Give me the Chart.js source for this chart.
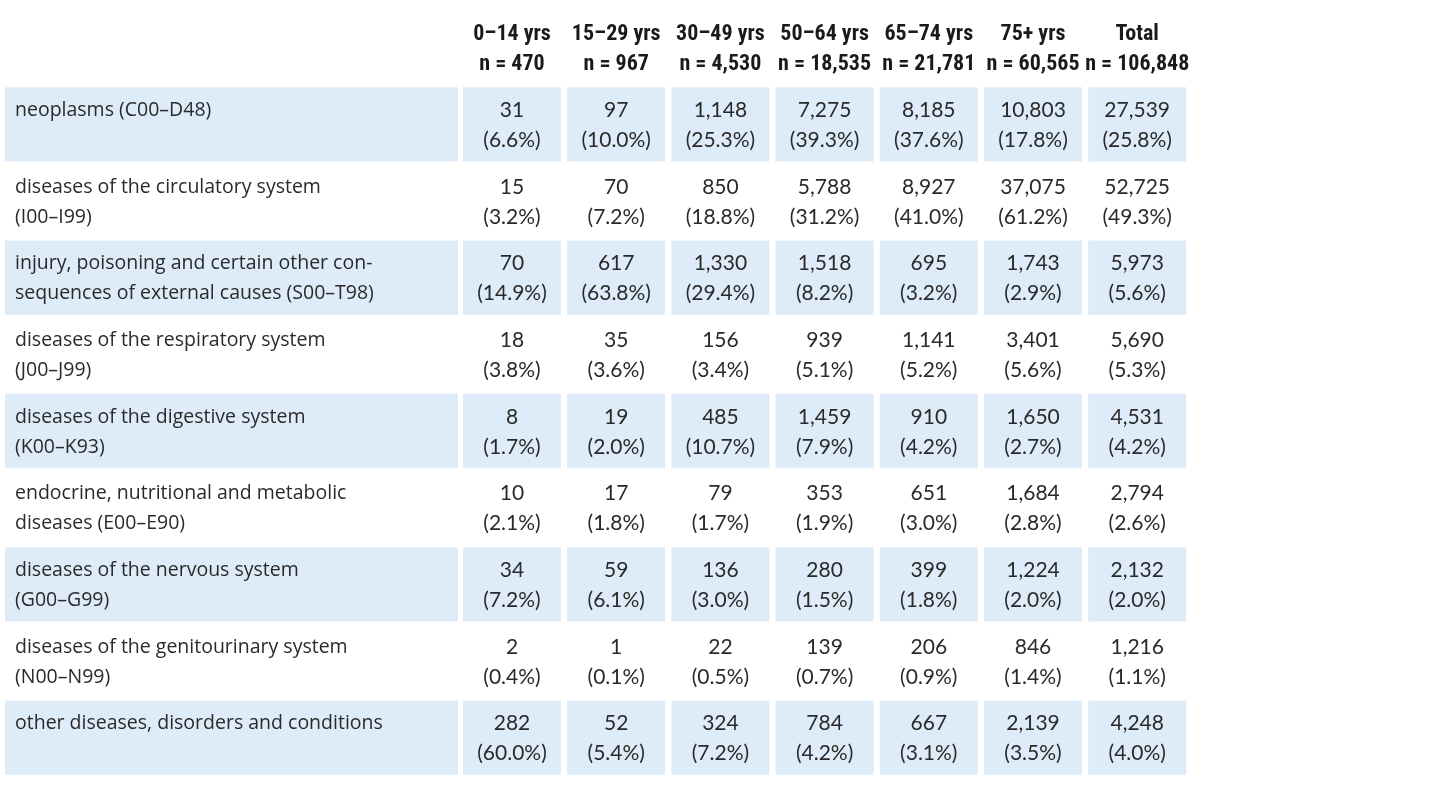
<!DOCTYPE html>
<html><head><meta charset="utf-8">
<script src="https://cdn.jsdelivr.net/npm/chart.js@4"></script>
<style>html,body{margin:0;background:#fff}#c{display:block}</style>
</head><body>
<canvas id="c" width="1429" height="800"></canvas>
<script>
// table data
const ageGroups = ['0–14 yrs', '15–29 yrs', '30–49 yrs', '50–64 yrs', '65–74 yrs', '75+ yrs', 'Total'];
const groupSizes = ['n = 470', 'n = 967', 'n = 4,530', 'n = 18,535', 'n = 21,781', 'n = 60,565', 'n = 106,848'];
const causes = [
  ['neoplasms (C00–D48)'],
  ['diseases of the circulatory system', '(I00–I99)'],
  ['injury, poisoning and certain other con-', 'sequences of external causes (S00–T98)'],
  ['diseases of the respiratory system', '(J00–J99)'],
  ['diseases of the digestive system', '(K00–K93)'],
  ['endocrine, nutritional and metabolic', 'diseases (E00–E90)'],
  ['diseases of the nervous system', '(G00–G99)'],
  ['diseases of the genitourinary system', '(N00–N99)'],
  ['other diseases, disorders and conditions']
];
const counts = [
  ['31', '97', '1,148', '7,275', '8,185', '10,803', '27,539'],
  ['15', '70', '850', '5,788', '8,927', '37,075', '52,725'],
  ['70', '617', '1,330', '1,518', '695', '1,743', '5,973'],
  ['18', '35', '156', '939', '1,141', '3,401', '5,690'],
  ['8', '19', '485', '1,459', '910', '1,650', '4,531'],
  ['10', '17', '79', '353', '651', '1,684', '2,794'],
  ['34', '59', '136', '280', '399', '1,224', '2,132'],
  ['2', '1', '22', '139', '206', '846', '1,216'],
  ['282', '52', '324', '784', '667', '2,139', '4,248']
];
const shares = [
  ['6.6', '10.0', '25.3', '39.3', '37.6', '17.8', '25.8'],
  ['3.2', '7.2', '18.8', '31.2', '41.0', '61.2', '49.3'],
  ['14.9', '63.8', '29.4', '8.2', '3.2', '2.9', '5.6'],
  ['3.8', '3.6', '3.4', '5.1', '5.2', '5.6', '5.3'],
  ['1.7', '2.0', '10.7', '7.9', '4.2', '2.7', '4.2'],
  ['2.1', '1.8', '1.7', '1.9', '3.0', '2.8', '2.6'],
  ['7.2', '6.1', '3.0', '1.5', '1.8', '2.0', '2.0'],
  ['0.4', '0.1', '0.5', '0.7', '0.9', '1.4', '1.1'],
  ['60.0', '5.4', '7.2', '4.2', '3.1', '3.5', '4.0']
];

// column layout (x in page pixels)
const labelCol = [5, 458];
const colStart = 463, colPitch = 104.2, colWidth = 98;
const colSpans = ageGroups.map((_, j) => [colStart + j * colPitch, colStart + j * colPitch + colWidth]);
const BLUE = '#deebf8';
const HEAD_FONT = '"Roboto Condensed", "Liberation Sans Narrow", sans-serif';
const LABEL_FONT = '"Open Sans", sans-serif';
const NUM_FONT = 'Lato, "Open Sans", sans-serif';
const rowIds = causes.map((_, i) => 'r' + i);

const spans = [labelCol].concat(colSpans);
const datasets = spans.map(s => ({
  data: rowIds.map(() => s.slice()),
  backgroundColor: rowIds.map((_, i) => i % 2 === 0 ? BLUE : 'rgba(0,0,0,0)'),
  borderWidth: 0,
  grouped: false,
  categoryPercentage: 1,
  barPercentage: 0.97
}));

const textPlugin = {
  id: 'tableText',
  afterDatasetsDraw(chart) {
    const ctx = chart.ctx, x = chart.scales.x, y = chart.scales.y;
    ctx.save();
    ctx.fillStyle = '#1a1a1a';
    ctx.textBaseline = 'middle';
    // header
    ctx.font = 'bold 22px ' + HEAD_FONT;
    ctx.textAlign = 'center';
    colSpans.forEach((s, j) => {
      const cx = x.getPixelForValue((s[0] + s[1]) / 2);
      ctx.fillText(ageGroups[j], cx, 34);
      ctx.fillText(groupSizes[j], cx, 64);
    });
    ctx.fillStyle = '#2a2a2a';
    rowIds.forEach((id, i) => {
      const cy = y.getPixelForValue(i);
      const top = cy - 14, bot = cy + 16;
      ctx.textAlign = 'left';
      ctx.font = '19.5px ' + LABEL_FONT;
      const lx = x.getPixelForValue(labelCol[0]) + 10;
      causes[i].forEach((t, k) => ctx.fillText(t, lx, k ? bot : top));
      ctx.textAlign = 'center';
      ctx.font = '21px ' + NUM_FONT;
      colSpans.forEach((s, j) => {
        const cx = x.getPixelForValue((s[0] + s[1]) / 2);
        ctx.fillText(counts[i][j], cx, top);
        ctx.fillText('(' + shares[i][j] + '%)', cx, bot);
      });
    });
    ctx.restore();
  }
};

new Chart(document.getElementById('c'), {
  type: 'bar',
  data: { labels: rowIds, datasets },
  options: {
    indexAxis: 'y',
    responsive: false,
    animation: false,
    layout: { padding: { top: 86, bottom: 24, left: 0, right: 0 } },
    scales: {
      x: { type: 'linear', min: 0, max: 1429, display: false },
      y: { display: false }
    },
    plugins: { legend: { display: false }, tooltip: { enabled: false } }
  },
  plugins: [textPlugin]
});
</script>
</body></html>
